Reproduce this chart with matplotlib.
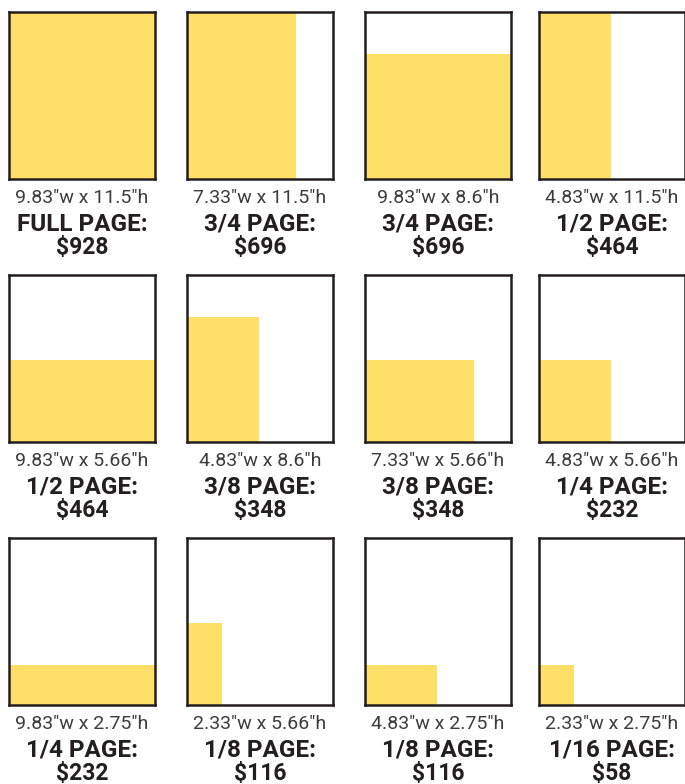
import matplotlib
matplotlib.use('Agg')
import matplotlib.pyplot as plt

# ---- data ----
PAGE_W = 9.83
PAGE_H = 11.5
ad_widths = [9.83, 7.33, 9.83, 4.83, 9.83, 4.83, 7.33, 4.83, 9.83, 2.33, 4.83, 2.33]
ad_heights = [11.5, 11.5, 8.6, 11.5, 5.66, 8.6, 5.66, 5.66, 2.75, 5.66, 2.75, 2.75]
dim_labels = ['9.83\u2033w x 11.5\u2033h', '7.33\u2033w x 11.5\u2033h', '9.83\u2033w x 8.6\u2033h',
              '4.83\u2033w x 11.5\u2033h', '9.83\u2033w x 5.66\u2033h', '4.83\u2033w x 8.6\u2033h',
              '7.33\u2033w x 5.66\u2033h', '4.83\u2033w x 5.66\u2033h', '9.83\u2033w x 2.75\u2033h',
              '2.33\u2033w x 5.66\u2033h', '4.83\u2033w x 2.75\u2033h', '2.33\u2033w x 2.75\u2033h']
titles = ['FULL PAGE:', '3/4 PAGE:', '3/4 PAGE:', '1/2 PAGE:', '1/2 PAGE:', '3/8 PAGE:',
          '3/8 PAGE:', '1/4 PAGE:', '1/4 PAGE:', '1/8 PAGE:', '1/8 PAGE:', '1/16 PAGE:']
prices = ['$928', '$696', '$696', '$464', '$464', '$348', '$348', '$232', '$232', '$116', '$116', '$58']

# ---- layout ----
W, H = 685, 784
col_x = [9, 187, 365, 539]
row_y = [12, 275, 538]
box_w, box_h = 146, 167
YELLOW = '#FEDF68'
EDGE = '#231f20'
TEXT = '#231f20'
FAM = ['Roboto', 'DejaVu Sans']

fig = plt.figure(figsize=(W / 100, H / 100), dpi=100)
fig.patch.set_facecolor('white')

for i in range(12):
    r, c = divmod(i, 4)
    x0, y0 = col_x[c], row_y[r]
    ax = fig.add_axes([x0 / W, 1 - (y0 + box_h) / H, box_w / W, box_h / H])
    ax.set_xlim(0, PAGE_W)
    ax.set_ylim(0, PAGE_H)
    ax.bar([0], [ad_heights[i]], width=ad_widths[i], align='edge', color=YELLOW,
           edgecolor='none', zorder=1)
    ax.set_xticks([])
    ax.set_yticks([])
    for s in ax.spines.values():
        s.set_linewidth(1.8)
        s.set_color(EDGE)
        s.set_zorder(3)
    cx = (x0 + box_w / 2) / W
    bottom = y0 + box_h
    fig.text(cx, 1 - (bottom + 24) / H, dim_labels[i], ha='center', va='baseline',
             fontsize=14, fontweight='normal', color='#3c3c3c', family=FAM)
    fig.text(cx, 1 - (bottom + 52) / H, titles[i], ha='center', va='baseline',
             fontsize=17.5, fontweight='bold', color=TEXT, family=FAM)
    fig.text(cx, 1 - (bottom + 75) / H, prices[i], ha='center', va='baseline',
             fontsize=16.5, fontweight='bold', color=TEXT, family=FAM)

fig.savefig('out.png', dpi=100, facecolor='white')
